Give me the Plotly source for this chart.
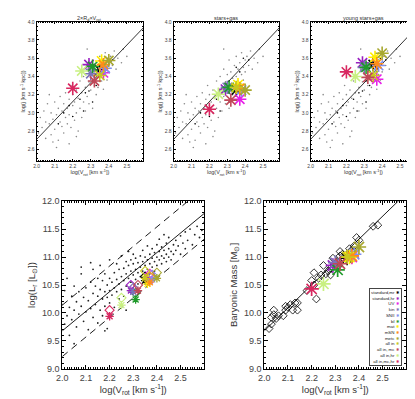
import plotly.graph_objects as go

# Simulated galaxies (same order as the legend)
model_names = ['standard,mr', 'standard,hr', 'UV', 'kin', 'SNII', 'bl', 'mat', 'mSN',
               'metc', 'all in', 'all in, mc', 'all in,hr', 'all in,mc,hr']
model_colors = ['#000000', '#9a1fc0', '#e81ee8', '#7a74b8', '#7f8ff0', '#1f9a2a', '#ffee00', '#ff8c1a',
                '#a8a830', '#c8c820', '#c04858', '#c8f080', '#d82860']
model_vrot = [2.35, 2.29, 2.37, 2.30, 2.38, 2.31, 2.36, 2.37, 2.40, 2.35, 2.32, 2.25, 2.20]
j_disk = [3.47, 3.53, 3.44, 3.43, 3.49, 3.51, 3.57, 3.53, 3.575, 3.41, 3.35, 3.46, 3.27]
j_stars_gas = [3.25, 3.26, 3.15, 3.28, 3.25, 3.28, 3.31, 3.27, 3.25, 3.28, 3.14, 3.205, 3.04]
j_young = [3.53, 3.55, 3.37, 3.50, 3.52, 3.50, 3.61, 3.54, 3.655, 3.41, 3.39, 3.40, 3.45]
lum_nodust = [10.65, 10.50, 10.70, 10.45, 10.68, 10.36, 10.60, 10.65, 10.72, 10.75, 10.50, 10.27, 10.05]
lum_dust = [10.58, 10.40, 10.58, 10.38, 10.60, 10.24, 10.52, 10.55, 10.62, 10.62, 10.40, 10.14, 9.94]
mass_bar = [10.98, 10.85, 11.00, 10.90, 11.05, 10.77, 11.00, 11.02, 11.18, 11.00, 10.88, 10.52, 10.43]

# Observed sample, angular momentum panels
obs_j_vrot = [2.01, 2.02, 2.03, 2.04, 2.05, 2.05, 2.06, 2.07, 2.08, 2.08, 2.09, 2.10, 2.10, 2.11, 2.12,
              2.12, 2.13, 2.13, 2.14, 2.14, 2.15, 2.15, 2.16, 2.16, 2.17, 2.17, 2.18, 2.18, 2.19, 2.19,
              2.20, 2.20, 2.21, 2.21, 2.22, 2.22, 2.23, 2.23, 2.24, 2.24, 2.25, 2.25, 2.26, 2.26, 2.27,
              2.27, 2.28, 2.28, 2.29, 2.29, 2.30, 2.30, 2.31, 2.31, 2.32, 2.32, 2.33, 2.33, 2.34, 2.34,
              2.35, 2.35, 2.36, 2.36, 2.37, 2.37, 2.38, 2.38, 2.39, 2.39, 2.40, 2.40, 2.41, 2.42, 2.43,
              2.44, 2.45, 2.47, 2.48, 2.50, 2.28, 2.11, 2.18, 2.22, 2.07, 2.09]
obs_j = [2.78, 2.95, 2.84, 3.02, 2.72, 2.90, 3.10, 2.88, 2.76, 3.00, 2.93, 3.12, 2.82, 2.98, 2.70,
         3.05, 2.90, 3.18, 2.85, 3.02, 3.10, 2.78, 2.95, 3.22, 3.05, 2.88, 3.15, 2.98, 3.30, 2.84,
         3.08, 3.20, 2.92, 3.12, 3.25, 3.00, 3.16, 2.80, 3.35, 3.05, 3.22, 2.95, 3.12, 3.40, 3.28,
         3.02, 3.18, 3.48, 3.34, 3.10, 3.25, 3.42, 3.05, 3.58, 3.30, 3.45, 3.20, 3.38, 3.52, 3.28,
         3.40, 3.62, 3.35, 3.48, 3.26, 3.55, 3.42, 3.66, 3.50, 3.36, 3.58, 3.45, 3.62, 3.52, 3.68,
         3.48, 3.60, 3.55, 3.70, 3.62, 3.70, 2.62, 2.66, 2.74, 3.20, 2.68]
obs_j_dark_vrot = [2.12, 2.15, 2.18, 2.20, 2.24, 2.26, 2.27, 2.29, 2.31, 2.31, 2.33, 2.35, 2.37, 2.39, 2.42]
obs_j_dark = [2.88, 3.00, 3.08, 2.96, 3.15, 3.02, 3.22, 3.24, 3.35, 3.12, 3.30, 3.50, 3.45, 3.60, 3.58]

# Observed sample, Tully-Fisher panel
obs_tf_vrot = [2.00, 2.01, 2.01, 2.02, 2.02, 2.03, 2.03, 2.04, 2.04, 2.05, 2.05, 2.06, 2.06, 2.07, 2.07,
               2.08, 2.08, 2.09, 2.09, 2.10, 2.10, 2.11, 2.11, 2.12, 2.12, 2.13, 2.13, 2.13, 2.14, 2.14,
               2.15, 2.15, 2.15, 2.16, 2.16, 2.16, 2.17, 2.17, 2.17, 2.18, 2.18, 2.18, 2.19, 2.19, 2.19,
               2.20, 2.20, 2.20, 2.20, 2.21, 2.21, 2.22, 2.22, 2.22, 2.23, 2.23, 2.23, 2.24, 2.24, 2.24,
               2.25, 2.25, 2.25, 2.26, 2.26, 2.26, 2.27, 2.27, 2.27, 2.28, 2.28, 2.28, 2.28, 2.29, 2.29,
               2.29, 2.30, 2.30, 2.30, 2.30, 2.31, 2.31, 2.31, 2.32, 2.32, 2.32, 2.33, 2.33, 2.33, 2.34,
               2.34, 2.34, 2.35, 2.35, 2.35, 2.36, 2.36, 2.36, 2.37, 2.37, 2.37, 2.38, 2.38, 2.38, 2.39,
               2.39, 2.39, 2.40, 2.40, 2.40, 2.41, 2.41, 2.41, 2.42, 2.42, 2.42, 2.43, 2.43, 2.43, 2.44,
               2.44, 2.44, 2.45, 2.45, 2.45, 2.46, 2.46, 2.47, 2.47, 2.48, 2.48, 2.49, 2.50, 2.50, 2.51,
               2.52, 2.52, 2.53, 2.54, 2.55, 2.56, 2.57, 2.58, 2.59, 2.60, 2.08, 2.12, 2.05, 2.18, 2.27]
obs_tf_lum = [10.15, 9.80, 10.40, 9.95, 10.62, 10.10, 9.60, 10.30, 9.88, 10.05, 10.48, 9.75, 10.20, 10.38, 9.98,
              10.12, 10.70, 9.85, 10.28, 10.45, 10.02, 10.22, 9.70, 10.55, 10.08, 10.35, 9.92, 10.78, 10.15, 10.48,
              10.30, 9.82, 10.62, 10.05, 10.42, 10.85, 10.25, 10.58, 9.95, 10.38, 10.70, 10.12, 10.50, 10.28, 9.72,
              10.62, 10.40, 10.18, 10.95, 10.55, 10.32, 10.72, 10.45, 10.10, 10.60, 10.38, 10.88, 10.52, 10.25, 10.78,
              10.65, 10.42, 11.02, 10.58, 10.80, 10.30, 10.70, 10.48, 10.92, 10.62, 10.85, 10.40, 11.10, 10.75, 10.55,
              10.95, 10.68, 10.88, 10.45, 11.05, 10.78, 10.60, 10.98, 10.72, 10.90, 10.52, 10.82, 11.02, 10.65, 10.92,
              10.75, 11.12, 10.85, 10.68, 11.00, 10.95, 10.78, 11.20, 10.88, 11.05, 10.70, 10.98, 10.82, 11.15, 10.92,
              11.08, 10.75, 11.00, 11.22, 10.85, 11.10, 10.95, 11.32, 11.02, 11.18, 10.88, 11.12, 10.98, 11.40, 11.05,
              11.25, 10.92, 11.15, 11.00, 11.35, 11.10, 10.95, 11.22, 11.05, 11.30, 11.12, 11.20, 11.38, 11.05, 11.25,
              11.45, 11.15, 11.30, 11.50, 11.22, 11.40, 11.55, 11.35, 11.48, 11.62, 10.82, 10.90, 9.45, 9.68, 10.05]

# Observed sample, baryonic Tully-Fisher panel
obs_btf_vrot = [2.02, 2.03, 2.03, 2.04, 2.04, 2.05, 2.06, 2.08, 2.09, 2.09, 2.10, 2.11, 2.12, 2.13, 2.14,
                2.14, 2.18, 2.20, 2.21, 2.21, 2.22, 2.23, 2.24, 2.25, 2.26, 2.27, 2.28, 2.28, 2.29, 2.30,
                2.31, 2.32, 2.32, 2.33, 2.34, 2.35, 2.36, 2.37, 2.38, 2.39, 2.40, 2.46, 2.48]
obs_btf_mass = [9.72, 9.80, 9.92, 9.97, 10.05, 9.90, 9.95, 9.95, 10.05, 10.12, 10.10, 10.15, 10.05, 10.18, 10.18,
                10.05, 10.40, 10.58, 10.50, 10.72, 10.25, 10.62, 10.68, 10.85, 10.70, 10.75, 10.80, 10.68, 10.98, 10.85,
                10.90, 11.10, 11.02, 11.05, 10.95, 11.00, 11.15, 11.10, 11.20, 11.35, 11.30, 11.55, 11.57]

# Reference relations (intercept at log V = 2, slope)
j_fit = (2.71, 2.07)
tf_fit = (9.68, 3.5)
tf_scatter = 0.46
btf_fit = (9.68, 4.1)

FONT = 'Liberation Sans'
W, H = 415, 399


def px_x(a, b):
    return [a / W, b / W]


def px_y(top, bottom):
    return [1 - bottom / H, 1 - top / H]


def axis_style(domain, rng, tickvals, minor_dtick, size, fmt, anchor, title, standoff, ticklen):
    return dict(
        domain=domain, range=rng, tickvals=tickvals, tickformat=fmt, anchor=anchor,
        showgrid=False, zeroline=False, showline=True, linecolor='black', linewidth=1,
        mirror='allticks', ticks='inside', ticklen=ticklen, tickcolor='black',
        minor=dict(dtick=minor_dtick, ticks='inside', ticklen=ticklen / 2, tickcolor='black'),
        tickfont=dict(size=size, color='#444', family=FONT),
        title=dict(text=title, font=dict(size=size + 0.5, color='#333', family=FONT), standoff=standoff),
    )


fig = go.Figure()

top_titles = ['2×R<sub>d</sub>×V<sub>rot</sub>', 'stars+gas', 'young stars+gas']
top_x_px = [(23, 131), (162, 269), (301, 408)]
top_j = [j_disk, j_stars_gas, j_young]
vx = [2.0, 2.6]

for i in range(3):
    xa = 'x' if i == 0 else f'x{i + 1}'
    ya = 'y' if i == 0 else f'y{i + 1}'
    fig.add_trace(go.Scatter(x=obs_j_vrot, y=obs_j, mode='markers', xaxis=xa, yaxis=ya,
                             marker=dict(size=1.6, color='#8a8a8a'), showlegend=False))
    fig.add_trace(go.Scatter(x=obs_j_dark_vrot, y=obs_j_dark, mode='markers', xaxis=xa, yaxis=ya,
                             marker=dict(size=1.6, color='black'), showlegend=False))
    fig.add_trace(go.Scatter(x=vx, y=[j_fit[0] + j_fit[1] * (v - 2.0) for v in vx], mode='lines',
                             xaxis=xa, yaxis=ya, line=dict(color='black', width=0.8), showlegend=False))
    fig.add_trace(go.Scatter(x=model_vrot, y=top_j[i], mode='markers', xaxis=xa, yaxis=ya,
                             marker=dict(symbol='asterisk-open', size=11, color=model_colors,
                                         line=dict(width=1.6)),
                             showlegend=False))
    key = '' if i == 0 else str(i + 1)
    fig.update_layout({
        'xaxis' + key: axis_style(px_x(*top_x_px[i]), [2.0, 2.59], [2.0, 2.1, 2.2, 2.3, 2.4, 2.5], 0.01,
                                  5, '.1f', ya, 'log(V<sub>rot</sub> [km s<sup>-1</sup>])', 1, 2.5),
        'yaxis' + key: axis_style(px_y(9, 152), [2.47, 4.0], [2.6, 2.8, 3.0, 3.2, 3.4, 3.6, 3.8, 4.0], 0.05,
                                  5, '.1f', xa, 'log(j [km s<sup>-1</sup> kpc])', 1, 2.5),
    })
    fig.add_annotation(text=top_titles[i], xref='paper', yref='paper',
                       x=(top_x_px[i][0] + top_x_px[i][1]) / 2 / W, y=1 - 0.5 / H,
                       xanchor='center', yanchor='top', showarrow=False,
                       font=dict(size=5.5, color='#333', family=FONT))

# Tully-Fisher panel
fig.add_trace(go.Scatter(x=obs_tf_vrot, y=obs_tf_lum, mode='markers', xaxis='x4', yaxis='y4',
                         marker=dict(size=1.8, color='#222'), showlegend=False))
fig.add_trace(go.Scatter(x=vx, y=[tf_fit[0] + tf_fit[1] * (v - 2.0) for v in vx], mode='lines',
                         xaxis='x4', yaxis='y4', line=dict(color='black', width=0.9), showlegend=False))
for s in (tf_scatter, -tf_scatter):
    fig.add_trace(go.Scatter(x=vx, y=[tf_fit[0] + s + tf_fit[1] * (v - 2.0) for v in vx], mode='lines',
                             xaxis='x4', yaxis='y4', line=dict(color='black', width=0.9, dash='7px,5px'),
                             showlegend=False))
fig.add_trace(go.Scatter(x=model_vrot, y=lum_nodust, mode='markers', xaxis='x4', yaxis='y4',
                         marker=dict(symbol='diamond-open', size=7, color=model_colors, line=dict(width=1.1)),
                         showlegend=False))
fig.add_trace(go.Scatter(x=model_vrot, y=lum_dust, mode='markers', xaxis='x4', yaxis='y4',
                         marker=dict(symbol='asterisk-open', size=7, color=model_colors, line=dict(width=1.3)),
                         showlegend=False))

# Baryonic Tully-Fisher panel
fig.add_trace(go.Scatter(x=obs_btf_vrot, y=obs_btf_mass, mode='markers', xaxis='x5', yaxis='y5',
                         marker=dict(symbol='diamond-open', size=6, color='black', line=dict(width=0.8)),
                         showlegend=False))
fig.add_trace(go.Scatter(x=vx, y=[btf_fit[0] + btf_fit[1] * (v - 2.0) for v in vx], mode='lines',
                         xaxis='x5', yaxis='y5', line=dict(color='black', width=0.9), showlegend=False))
fig.add_trace(go.Scatter(x=model_vrot, y=mass_bar, mode='markers', xaxis='x5', yaxis='y5',
                         marker=dict(symbol='asterisk-open', size=12, color=model_colors, line=dict(width=1.7)),
                         showlegend=False))

bx = [2.0, 2.1, 2.2, 2.3, 2.4, 2.5]
by = [9.0, 9.5, 10.0, 10.5, 11.0, 11.5, 12.0]
vlabel = 'log(V<sub>rot</sub> [km s<sup>-1</sup>])'
fig.update_layout(
    xaxis4=axis_style(px_x(49, 193), [2.0, 2.6], bx, 0.01, 9, '.1f', 'y4', vlabel, 3, 4),
    yaxis4=axis_style(px_y(193, 365), [9.0, 12.0], by, 0.1, 9, '.1f', 'x4', 'log(L<sub>r</sub> [L<sub>⊙</sub>])', 4, 4),
    xaxis5=axis_style(px_x(254, 398), [2.0, 2.6], bx, 0.01, 9, '.1f', 'y5', vlabel, 3, 4),
    yaxis5=axis_style(px_y(193, 365), [9.0, 12.0], by, 0.1, 9, '.1f', 'x5', 'Baryonic Mass [M<sub>⊙</sub>]', 4, 4),
)

# Legend drawn as a boxed, right-aligned list with the symbol on the right
legend_lines = [f'{n} <span style="color:{c}">✱</span>' for n, c in zip(model_names, model_colors)]
fig.add_annotation(text='<br>'.join(legend_lines), xref='paper', yref='paper',
                   x=394 / W, y=1 - 282 / H, xanchor='right', yanchor='top', align='right',
                   showarrow=False, bordercolor='#444', borderwidth=1, borderpad=1, bgcolor='white',
                   font=dict(size=4.4, color='#222', family=FONT))

fig.update_layout(width=W, height=H, margin=dict(l=0, r=0, t=0, b=0),
                  paper_bgcolor='white', plot_bgcolor='white', font=dict(family=FONT))
fig.write_html('out.html')
